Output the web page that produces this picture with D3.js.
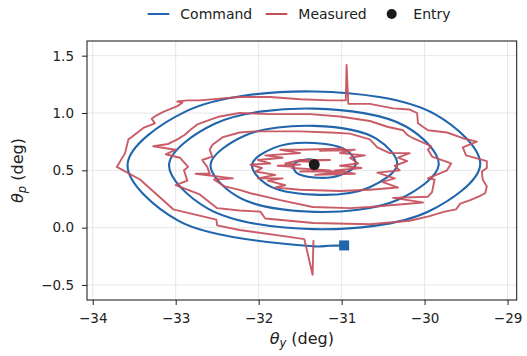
<!DOCTYPE html>
<html><head><meta charset="utf-8">
<script src="https://cdn.jsdelivr.net/npm/d3@7"></script>
<style>body{margin:0;background:#fff} svg{display:block} text{font-family:"DejaVu Sans",sans-serif}</style>
</head><body><svg id="c" width="527" height="356"></svg>
<script>
// ---- data ----
const commandX=[-31.33,-31.286,-31.33,-31.463,-31.58,-31.551,-31.33,-31.021,-30.83,-30.932,
 -31.33,-31.816,-32.08,-31.905,-31.33,-30.667,-30.33,-30.579,-31.33,-32.170,
 -32.58,-32.258,-31.33,-30.314,-29.83,-30.225,-31.33,-32.523,-33.08,-32.612,
 -31.33,-29.96,-29.33,-29.872,-31.33,-32.877,-33.58,-32.965,-31.33,-31.15,-30.97];
const commandY=[0.55,0.563,0.588,0.590,0.55,0.484,0.438,0.457,0.55,0.669,
 0.738,0.696,0.55,0.378,0.288,0.351,0.55,0.775,0.888,0.802,
 0.55,0.272,0.138,0.245,0.55,0.882,1.038,0.908,0.55,0.166,
 -0.013,0.139,0.55,0.988,1.188,1.014,0.55,0.059,-0.163,-0.158,-0.155];
const commandEnd=[-30.97,-0.155];
const entryPoint=[-31.33,0.55];
const measured=[
[-31.33,0.55],[-31.29,0.57],[-31.55,0.58],[-31.14,0.59],[-31.50,0.59],[-31.68,0.56],[-31.50,0.55],[-31.77,0.54],[-31.57,0.53],[-31.60,0.52],
[-31.14,0.50],[-31.50,0.49],[-30.96,0.49],[-31.32,0.46],[-30.84,0.47],[-31.08,0.50],[-30.76,0.52],[-31.02,0.54],[-30.80,0.56],
[-30.90,0.61],[-30.72,0.63],[-31.02,0.65],[-30.84,0.68],[-31.26,0.67],[-30.98,0.69],[-31.50,0.68],[-31.74,0.68],[-31.50,0.65],[-31.92,0.63],
[-31.71,0.61],[-32.01,0.59],[-31.86,0.56],[-32.10,0.55],[-31.96,0.52],[-32.04,0.49],[-31.80,0.46],[-32.01,0.43],[-31.71,0.43],[-31.89,0.41],
[-31.68,0.37],[-31.80,0.35],[-31.50,0.33],[-31.02,0.32],[-30.66,0.33],[-30.32,0.35],[-30.51,0.40],[-30.36,0.43],[-30.57,0.48],[-30.30,0.50],
[-30.36,0.54],[-30.21,0.58],[-30.32,0.61],[-30.18,0.65],[-30.42,0.65],[-30.57,0.70],[-30.66,0.77],
[-30.90,0.82],[-31.14,0.83],[-31.50,0.84],[-31.86,0.84],[-32.05,0.84],[-32.23,0.83],[-32.43,0.79],[-32.56,0.72],[-32.59,0.68],[-32.56,0.62],
[-32.68,0.59],[-32.62,0.53],[-32.59,0.47],[-32.76,0.47],[-32.31,0.43],[-32.54,0.42],[-32.41,0.36],[-32.23,0.33],[-32.10,0.30],[-31.74,0.24],
[-31.35,0.18],[-30.90,0.17],[-30.66,0.18],[-30.02,0.22],[-30.38,0.26],[-29.96,0.27],[-29.91,0.31],[-29.88,0.42],[-29.96,0.43],[-29.73,0.50],
[-29.68,0.56],[-29.91,0.62],[-29.96,0.68],[-29.92,0.71],[-30.14,0.78],[-30.21,0.81],[-30.26,0.85],[-30.45,0.88],[-30.66,0.93],
[-31.02,0.97],[-31.38,0.99],[-31.86,0.99],[-32.23,1.00],[-32.47,0.97],[-32.59,0.94],[-32.74,0.90],[-32.83,0.85],[-32.89,0.81],[-32.98,0.77],
[-33.09,0.73],[-33.27,0.71],[-33.00,0.68],[-33.12,0.64],[-32.95,0.61],[-32.85,0.53],[-32.90,0.50],[-32.86,0.41],[-33.00,0.37],[-32.71,0.29],
[-32.50,0.17],[-32.23,0.15],[-31.98,0.14],[-31.92,0.08],[-31.34,0.04],[-30.66,0.03],[-30.18,0.06],[-29.94,0.10],[-29.76,0.14],[-29.62,0.16],
[-29.57,0.21],[-29.45,0.24],[-29.35,0.27],[-29.27,0.30],[-29.25,0.36],[-29.30,0.42],[-29.31,0.49],[-29.25,0.52],[-29.25,0.58],[-29.50,0.63],
[-29.54,0.70],[-29.37,0.75],[-29.54,0.78],[-29.73,0.83],[-29.96,0.85],[-30.08,0.91],[-30.09,1.00],[-30.18,1.03],[-30.38,1.04],[-30.66,1.08],
[-30.92,1.08],[-30.94,1.42],[-30.95,1.11],[-31.14,1.11],[-31.50,1.12],[-31.86,1.14],[-32.23,1.14],[-32.71,1.11],[-32.86,1.11],[-32.98,1.10],
[-32.92,1.09],[-32.98,1.06],[-33.15,1.01],[-33.23,0.98],[-33.29,0.95],[-33.25,0.91],[-33.39,0.87],[-33.53,0.79],[-33.57,0.77],[-33.61,0.65],
[-33.71,0.53],[-33.43,0.42],[-33.03,0.16],[-32.51,0.07],[-32.50,0.02],[-32.23,-0.02],[-31.74,-0.07],[-31.45,-0.10],[-31.35,-0.41],[-31.34,-0.11]
];
const xTicks=[-34,-33,-32,-31,-30,-29];
const yTicks=[-0.5,0,0.5,1,1.5];
const legendLabels=["Command","Measured","Entry"];

// ---- style / layout ----
const BLUE="#2166ac", RED="#c44e5a", DARK="#1a1a1a";
const svg=d3.select("#c");
const L=87,R=516.7,T=41,B=300;
const x=d3.scaleLinear().domain([-34.069,-28.89]).range([L,R]);
const y=d3.scaleLinear().domain([-0.631,1.628]).range([B,T]);

// grid
const g=svg.append("g");
g.selectAll("line.gx").data(xTicks).join("line")
 .attr("x1",d=>x(d)).attr("x2",d=>x(d)).attr("y1",T).attr("y2",B)
 .attr("stroke","#e6e6e6").attr("stroke-width",1);
g.selectAll("line.gy").data(yTicks).join("line")
 .attr("y1",d=>y(d)).attr("y2",d=>y(d)).attr("x1",L).attr("x2",R)
 .attr("stroke","#e6e6e6").attr("stroke-width",1);

// axes
const xa=svg.append("g").attr("transform",`translate(0,${B})`)
 .call(d3.axisBottom(x).tickValues(xTicks).tickSize(5).tickPadding(8).tickFormat(d3.format(".0f")));
const ya=svg.append("g").attr("transform",`translate(${L},0)`)
 .call(d3.axisLeft(y).tickValues(yTicks).tickSize(5).tickPadding(8).tickFormat(d3.format(".1f")));
[xa,ya].forEach(a=>{
  a.select(".domain").remove();
  a.selectAll(".tick line").attr("stroke","#222").attr("stroke-width",1);
  a.selectAll(".tick text").attr("font-size","13.5px").attr("fill","#222").attr("font-family","DejaVu Sans");
});

// command spiral
const cmd=commandX.map((v,i)=>[v,commandY[i]]);
svg.append("path").datum(cmd)
 .attr("d",d3.line().x(d=>x(d[0])).y(d=>y(d[1])).curve(d3.curveCatmullRom.alpha(0.5)))
 .attr("fill","none").attr("stroke",BLUE).attr("stroke-width",2.1).attr("stroke-linejoin","round");
svg.append("rect").attr("x",x(commandEnd[0])-5).attr("y",y(commandEnd[1])-5)
 .attr("width",10).attr("height",10).attr("fill",BLUE);

// measured
svg.append("path").datum(measured)
 .attr("d",d3.line().x(d=>x(d[0])).y(d=>y(d[1])))
 .attr("fill","none").attr("stroke",RED).attr("stroke-opacity",0.92).attr("stroke-width",1.9)
 .attr("stroke-linejoin","round");

// entry
svg.append("circle").attr("cx",x(entryPoint[0])).attr("cy",y(entryPoint[1])).attr("r",5.5).attr("fill",DARK);

// frame
svg.append("rect").attr("x",L).attr("y",T).attr("width",R-L).attr("height",B-T)
 .attr("fill","none").attr("stroke","#111").attr("stroke-width",1);

// axis labels
const xl=svg.append("text").attr("x",(L+R)/2).attr("y",344).attr("text-anchor","middle")
 .attr("font-size","16px").attr("fill","#222");
xl.append("tspan").attr("font-style","italic").text("θ");
xl.append("tspan").attr("font-style","italic").attr("font-size","11.5px").attr("dy",3).text("y");
xl.append("tspan").attr("dy",-3).text(" (deg)");
const yl=svg.append("text").attr("transform",`translate(23,${(T+B)/2}) rotate(-90)`).attr("text-anchor","middle")
 .attr("font-size","16px").attr("fill","#222");
yl.append("tspan").attr("font-style","italic").text("θ");
yl.append("tspan").attr("font-style","italic").attr("font-size","11.5px").attr("dy",3).text("p");
yl.append("tspan").attr("dy",-3).text(" (deg)");

// legend
const lg=svg.append("g").attr("font-size","14px").attr("fill","#222");
const legY=14;
lg.append("line").attr("x1",147.7).attr("x2",169.3).attr("y1",legY).attr("y2",legY).attr("stroke",BLUE).attr("stroke-width",2);
lg.append("text").attr("x",180.3).attr("y",legY+5.2).text(legendLabels[0]);
lg.append("line").attr("x1",265.7).attr("x2",287.3).attr("y1",legY).attr("y2",legY).attr("stroke",RED).attr("stroke-width",2);
lg.append("text").attr("x",298.3).attr("y",legY+5.2).text(legendLabels[1]);
lg.append("circle").attr("cx",391.7).attr("cy",legY).attr("r",5).attr("fill",DARK);
lg.append("text").attr("x",413.3).attr("y",legY+5.2).text(legendLabels[2]);
</script></body></html>
